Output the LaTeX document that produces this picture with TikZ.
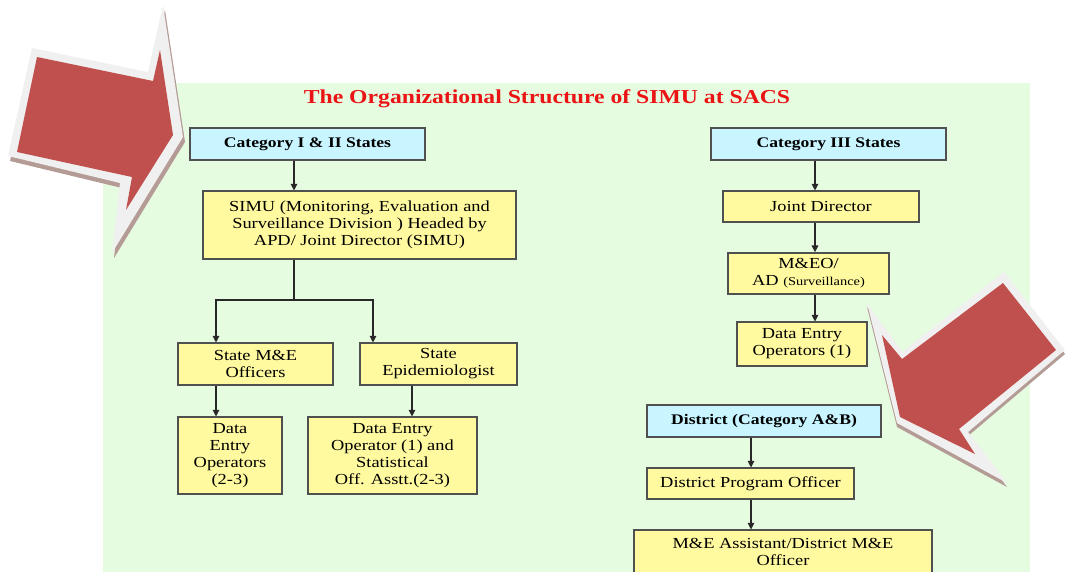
\documentclass[tikz,border=0pt]{standalone}
\usepackage{fontspec}
\setmainfont[FakeStretch=1.2]{Liberation Serif}
\usetikzlibrary{arrows.meta}

\definecolor{panelgreen}{RGB}{230,252,224}
\definecolor{boxyellow}{RGB}{255,250,160}
\definecolor{boxcyan}{RGB}{200,245,255}
\definecolor{edgegray}{RGB}{80,80,80}
\definecolor{linkgray}{RGB}{40,40,40}
\definecolor{arrowred}{RGB}{192,80,77}
\definecolor{arrowrim}{RGB}{240,240,240}
\definecolor{arrowshade}{RGB}{180,155,150}
\definecolor{titlered}{RGB}{235,20,20}

\tikzset{
  orgbox/.style={draw=edgegray, line width=0.8pt, align=center, inner sep=1pt,
    font=\fontsize{11.5}{12.8}\selectfont},
  headbox/.style={orgbox, fill=boxcyan, font=\fontsize{11}{12}\selectfont\bfseries},
  rolebox/.style={orgbox, fill=boxyellow},
  link/.style={draw=linkgray, line width=0.8pt, -{Triangle[length=5pt,width=5pt]}},
  plainlink/.style={draw=linkgray, line width=0.8pt},
}

% box by its pixel corners: name, style, x1, y1, x2, y2, text
\newcommand\orgnode[7]{%
  \node[#2, minimum width={(#5-#3)*0.75pt}, minimum height={(#6-#4)*0.75pt}]
    (#1) at ({(#3+#5)/2},{(#4+#6)/2}) {#7};}

\begin{document}
\begin{tikzpicture}[x=0.75pt, y=-0.75pt]
\useasboundingbox (0,0) rectangle (1066,571);
\clip (0,0) rectangle (1066,571);

% background panel
\fill[panelgreen] (103,83) rectangle (1030,575);

% title
\node[text=titlered, font=\fontsize{14.8}{16}\selectfont\bfseries] (title) at (547,99)
  {The Organizational Structure of SIMU at SACS};

% left column
\orgnode{cat12}{headbox}{190}{128}{425}{160}{Category I \& II States}
\orgnode{simu}{rolebox}{203}{191}{516}{259}{SIMU (Monitoring, Evaluation and\\Surveillance Division ) Headed by\\APD/ Joint Director (SIMU)}
\orgnode{sme}{rolebox}{178}{343}{333}{385}{State M\&E\\Officers}
\orgnode{epi}{rolebox}{360}{343}{517}{385}{State\\Epidemiologist}
\orgnode{deoA}{rolebox}{178}{417}{282}{494}{Data\\Entry\\Operators\\(2-3)}
\orgnode{deoB}{rolebox}{308}{417}{477}{494}{Data Entry\\Operator (1) and\\Statistical\\Off. Asstt.(2-3)}

% right column
\orgnode{cat3}{headbox}{711}{128}{946}{160}{Category III States}
\orgnode{jd}{rolebox}{723}{191}{919}{222}{Joint Director}
\orgnode{meo}{rolebox, line width=1.3pt}{728}{253}{889}{294}{M\&EO/\\AD {\fontsize{9}{10}\selectfont(Surveillance)}}
\orgnode{deoC}{rolebox}{737}{322}{867}{366}{Data Entry\\Operators (1)}
\orgnode{dist}{headbox}{647}{405}{881}{437}{District (Category A\&B)}
\orgnode{dpo}{rolebox}{647}{468}{854}{499}{District Program Officer}
\orgnode{mea}{rolebox}{634}{530}{932}{574}{M\&E Assistant/District M\&E\\Officer}

% connector columns
\coordinate (colA) at (294,0);
\coordinate (colB) at (216,0);
\coordinate (colC) at (373,0);
\coordinate (colF) at (412,0);
\coordinate (colD) at (815,0);
\coordinate (colE) at (751,0);
\coordinate (fork) at (294,300);

\draw[link] (cat12.south -| colA) -- (simu.north -| colA);
\draw[plainlink] (simu.south -| colA) -- (fork);
\draw[link] (fork) -| (sme.north -| colB);
\draw[link] (fork) -| (epi.north -| colC);
\draw[link] (sme.south -| colB) -- (deoA.north -| colB);
\draw[link] (epi.south -| colF) -- (deoB.north -| colF);

\draw[link] (cat3.south -| colD) -- (jd.north -| colD);
\draw[link] (jd.south -| colD) -- (meo.north -| colD);
\draw[link] (meo.south -| colD) -- (deoC.north -| colD);
\draw[link] (dist.south -| colE) -- (dpo.north -| colE);
\draw[link] (dpo.south -| colE) -- (mea.north -| colE);

% pointer arrow, upper left
\fill[arrowshade] (34,53) -- (150,77) -- (165,10) -- (185,142) -- (114,258) -- (122,188) -- (10,161) -- cycle;
\fill[arrowrim] (32,48) -- (148,72) -- (163,5) -- (183,137) -- (112,253) -- (120,183) -- (8,156) -- cycle;
\fill[arrowred] (37,57) -- (153,81) -- (160,50) -- (173,135) -- (126,210) -- (132,177) -- (17,152) -- cycle;

% pointer arrow, lower right
\fill[arrowshade] (1004,276) -- (1065,354) -- (968,436) -- (1007,487) -- (897,427) -- (867,307) -- (902,356) -- cycle;
\fill[arrowrim] (1004,272) -- (1065,350) -- (968,432) -- (1007,483) -- (897,423) -- (867,303) -- (902,352) -- cycle;
\fill[arrowred] (1003,283) -- (1056,350) -- (959,429) -- (975,454) -- (900,417) -- (882,335) -- (902,359) -- cycle;
\end{tikzpicture}
\end{document}
